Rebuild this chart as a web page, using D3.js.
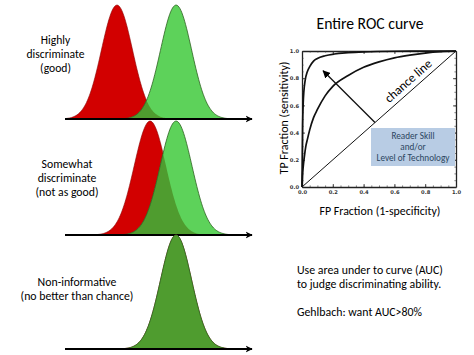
<!DOCTYPE html>
<html><head><meta charset="utf-8">
<script src="https://cdn.jsdelivr.net/npm/d3@7"></script>
<style>body{margin:0;background:#fff}svg{display:block}</style>
</head><body>
<svg id="c" width="474" height="355"></svg>
<script>
// ---------- data ----------
const panelLabels = [["Highly","discriminate","(good)"],["Somewhat","discriminate","(not as good)"],["Non-informative","(no better than chance)"]];
const negMeans = [27.8, 45.5, 59.4];   // red (negative) distribution means, arbitrary units 0-100
const posMeans = [59.4, 59.4, 59.4];   // green (positive) distribution means
const spreads  = [8.3, 8.5, 8.3];      // standard deviation of both distributions
const rocExcellentFpr = [0,0.004,0.008,0.012,0.02,0.035,0.05,0.075,0.1,0.15,0.21,0.3,0.4,0.6,0.8,1];
const rocExcellentTpr = [0,0.45,0.62,0.7,0.78,0.85,0.885,0.925,0.945,0.965,0.978,0.987,0.993,0.998,0.999,1];
const rocModerateFpr = [0,0.003,0.008,0.015,0.025,0.035,0.05,0.075,0.1,0.15,0.2,0.3,0.4,0.5,0.6,0.7,0.8,0.9,1];
const rocModerateTpr = [0,0.08,0.15,0.22,0.3,0.35,0.42,0.51,0.57,0.67,0.74,0.82,0.88,0.92,0.95,0.97,0.985,0.995,1];
const chanceLine = [[0,0],[1,1]];
const tickValues = [0,0.2,0.4,0.6,0.8,1.0];
const texts = {
  title: "Entire ROC curve",
  xLabel: "FP Fraction (1-specificity)",
  yLabel: "TP Fraction (sensitivity)",
  chance: "chance line",
  box: ["Reader Skill","and/or","Level of Technology"],
  note: ["Use area under to curve (AUC)","to judge discriminating ability."],
  note2: "Gehlbach: want AUC>80%"
};

// ---------- setup ----------
const svg = d3.select("#c");
svg.append("rect").attr("width",474).attr("height",355).attr("fill","#fff");
const FONT = "Carlito, Roboto, Lato, sans-serif";
const defs = svg.append("defs");
defs.append("marker").attr("id","ah").attr("viewBox","0 0 10 10").attr("refX",9).attr("refY",5)
  .attr("markerWidth",4).attr("markerHeight",4).attr("orient","auto").attr("markerUnits","strokeWidth")
  .append("path").attr("d","M0,0L10,5L0,10L3,5Z").attr("fill","#000");
defs.append("marker").attr("id","ah2").attr("viewBox","0 0 10 10").attr("refX",9).attr("refY",5)
  .attr("markerWidth",6).attr("markerHeight",6).attr("orient","auto").attr("markerUnits","strokeWidth")
  .append("path").attr("d","M0,0L10,5L0,10Z").attr("fill","#000");
const grad = defs.append("linearGradient").attr("id","fade");
grad.append("stop").attr("offset","0").attr("stop-color","#fff");
grad.append("stop").attr("offset","1").attr("stop-color","#555");

function fitGroup(sel, target){
  let mx = 0; sel.each(function(){ mx = Math.max(mx, this.getComputedTextLength()); });
  const fs = parseFloat(sel.attr("font-size"));
  sel.attr("font-size", fs*target/mx);
}

// ---------- left distributions ----------
const xD = d3.scaleLinear().domain([0,100]).range([65,252]);
const baselines = [119,235,349];
const peakH = 114;
const samples = d3.range(0,100.01,0.5);
function dens(x,m,s){ return Math.exp(-0.5*((x-m)/s)**2); }

panelLabels.forEach((lab,i)=>{
  const yD = d3.scaleLinear().domain([0,1]).range([baselines[i], baselines[i]-peakH]);
  const area = d3.area().x(d=>xD(d.x)).y0(baselines[i]).y1(d=>yD(d.y)).curve(d3.curveBasis);
  const line = d3.line().x(d=>xD(d.x)).y(d=>yD(d.y)).curve(d3.curveBasis);
  const red = samples.map(x=>({x, y:dens(x,negMeans[i],spreads[i])}));
  const grn = samples.map(x=>({x, y:dens(x,posMeans[i],spreads[i])}));
  const ovl = samples.map((x,k)=>({x, y:Math.min(red[k].y, grn[k].y)}));
  const g = svg.append("g");
  g.append("path").attr("d",area(red)).attr("fill","#d20000");
  g.append("path").attr("d",line(red)).attr("fill","none").attr("stroke","#8c0000").attr("stroke-width",0.6);
  g.append("path").attr("d",area(grn)).attr("fill","#5dd25a");
  g.append("path").attr("d",area(ovl)).attr("fill","#4f9c2f");
  g.append("path").attr("d",line(grn)).attr("fill","none").attr("stroke","#2f6222").attr("stroke-width",0.8);
  if(i===0) g.append("line").attr("x1",33).attr("x2",66).attr("y1",baselines[i]).attr("y2",baselines[i])
      .attr("stroke","url(#fade)").attr("stroke-width",1.6);
  g.append("line").attr("x1",xD(0)).attr("x2",xD(100)).attr("y1",baselines[i]).attr("y2",baselines[i])
    .attr("stroke","#000").attr("stroke-width",1.8).attr("marker-end","url(#ah)");
});

// left labels
const labelPos = [{cx:55.5, y0:43.5, dy:14},{cx:67, y0:167.5, dy:14},{cx:77, y0:286, dy:13.5}];
const labelWidths = [58, 63, 113];
panelLabels.forEach((lab,i)=>{
  const t = svg.append("g").selectAll("text").data(lab).join("text")
    .attr("x",labelPos[i].cx).attr("y",(d,k)=>labelPos[i].y0+k*labelPos[i].dy)
    .attr("text-anchor","middle").attr("font-family",FONT).attr("font-size",11).attr("fill","#000").text(d=>d);
  fitGroup(t, labelWidths[i]);
});

// ---------- ROC plot ----------
const xR = d3.scaleLinear().domain([0,1]).range([302,456]);
const yR = d3.scaleLinear().domain([0,1]).range([187,51]);
const rg = svg.append("g");
const minor = d3.range(0,1.0001,0.05);
function styleAxis(a){
  a.selectAll("path.domain").attr("stroke","#222").attr("stroke-width",1.3);
  a.selectAll(".tick line").attr("stroke","#222").attr("stroke-width",0.8);
  a.selectAll("text").attr("font-family","'DejaVu Sans', sans-serif").attr("font-size",5.2).attr("font-weight","bold").attr("fill","#333");
}
const fmt = d3.format(".1f");
styleAxis(rg.append("g").attr("transform","translate(0,187)")
  .call(d3.axisBottom(xR).tickValues(tickValues).tickFormat(fmt).tickSizeInner(-3).tickSizeOuter(0).tickPadding(3)));
styleAxis(rg.append("g").attr("transform","translate(302,0)")
  .call(d3.axisLeft(yR).tickValues(tickValues).tickFormat(fmt).tickSizeInner(-3).tickSizeOuter(0).tickPadding(3)));
styleAxis(rg.append("g").attr("transform","translate(0,51)")
  .call(d3.axisTop(xR).tickValues(tickValues).tickFormat("").tickSizeInner(-3).tickSizeOuter(0)));
styleAxis(rg.append("g").attr("transform","translate(456,0)")
  .call(d3.axisRight(yR).tickValues(tickValues).tickFormat("").tickSizeInner(-3).tickSizeOuter(0)));
[[d3.axisBottom(xR),"translate(0,187)"],[d3.axisLeft(yR),"translate(302,0)"],
 [d3.axisTop(xR),"translate(0,51)"],[d3.axisRight(yR),"translate(456,0)"]].forEach(([ax,tr])=>{
  const a = rg.append("g").attr("transform",tr).call(ax.tickValues(minor).tickFormat("").tickSizeInner(-1.6).tickSizeOuter(0));
  a.select("path.domain").remove();
  a.selectAll(".tick line").attr("stroke","#333").attr("stroke-width",0.6);
});

// curves
const rocLine = d3.line().x(d=>xR(d[0])).y(d=>yR(d[1])).curve(d3.curveMonotoneX);
rg.append("path").attr("d",d3.line().x(d=>xR(d[0])).y(d=>yR(d[1]))(chanceLine))
  .attr("stroke","#111").attr("stroke-width",1).attr("fill","none");
rg.append("path").attr("d",rocLine(rocModerateFpr.map((f,k)=>[f,rocModerateTpr[k]])))
  .attr("stroke","#111").attr("stroke-width",1.7).attr("fill","none");
rg.append("path").attr("d",rocLine(rocExcellentFpr.map((f,k)=>[f,rocExcellentTpr[k]])))
  .attr("stroke","#111").attr("stroke-width",1.7).attr("fill","none");

rg.append("line").attr("x1",xR(0.474)).attr("y1",yR(0.474)).attr("x2",xR(0.137)).attr("y2",yR(0.855))
  .attr("stroke","#111").attr("stroke-width",1.3).attr("marker-end","url(#ah2)");

const ang = -Math.atan((yR(0)-yR(1))/(xR(1)-xR(0)))*180/Math.PI;
const ct = rg.append("text").attr("transform",`translate(411,84) rotate(${ang})`).attr("text-anchor","middle")
  .attr("font-family",FONT).attr("font-size",10).attr("fill","#000").text(texts.chance);
fitGroup(ct, 58);

rg.append("rect").attr("x",371).attr("y",128).attr("width",84).attr("height",38).attr("fill","#b8cce4");
const bt = rg.selectAll("text.box").data(texts.box).join("text").attr("class","box")
  .attr("x",413).attr("y",(d,k)=>139+k*11).attr("text-anchor","middle")
  .attr("font-family",FONT).attr("font-size",9).attr("fill","#2b4560").text(d=>d);
fitGroup(bt, 73);

const tt = svg.append("text").attr("x",370).attr("y",29).attr("text-anchor","middle")
  .attr("font-family",FONT).attr("font-size",15).attr("fill","#000").text(texts.title);
fitGroup(tt, 107);
const xl = svg.append("text").attr("x",380).attr("y",215).attr("text-anchor","middle")
  .attr("font-family",FONT).attr("font-size",12).attr("fill","#000").text(texts.xLabel);
fitGroup(xl, 121);
const yl = svg.append("text").attr("transform","translate(288,118) rotate(-90)").attr("text-anchor","middle")
  .attr("font-family",FONT).attr("font-size",12).attr("fill","#000").text(texts.yLabel);
fitGroup(yl, 113);

const nt = svg.selectAll("text.note").data(texts.note).join("text").attr("class","note")
  .attr("x",297).attr("y",(d,k)=>274+k*13.5)
  .attr("font-family",FONT).attr("font-size",12).attr("fill","#000").text(d=>d);
fitGroup(nt, 146);
svg.append("text").attr("x",297).attr("y",316)
  .attr("font-family",FONT).attr("font-size",nt.attr("font-size")).attr("fill","#000").text(texts.note2);
</script>
</body></html>
